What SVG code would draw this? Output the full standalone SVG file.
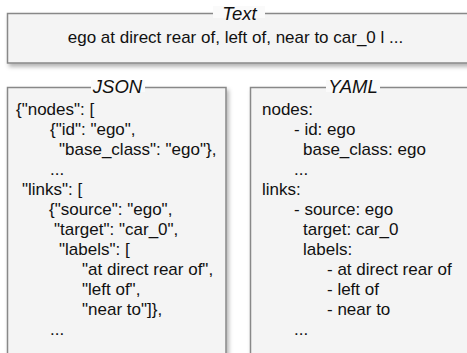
<svg xmlns="http://www.w3.org/2000/svg" width="467" height="353" viewBox="0 0 467 353">
<defs>
<filter id="sh" x="-10%" y="-10%" width="130%" height="140%">
<feDropShadow dx="2" dy="3" stdDeviation="2" flood-color="#000" flood-opacity="0.3"/>
</filter>
</defs>
<style>
.box{fill:#f4f4f4;stroke:#888;stroke-width:1.5}
.t{font-family:"Liberation Sans",Arial,sans-serif;font-size:17px;fill:#111}
.h{font-family:"Liberation Sans",Arial,sans-serif;font-size:18.5px;font-style:italic;fill:#111;text-anchor:middle}
.bg{fill:#fafafa}
</style>
<rect width="467" height="353" fill="#fff"/>
<g id="text-box">
<rect class="box" x="7.5" y="13.5" width="470" height="49.5" filter="url(#sh)"/>
<rect class="bg" x="213" y="6" width="52" height="12"/>
<text class="h" x="239.5" y="20">Text</text>
<text class="t" x="235.5" y="42.5" text-anchor="middle">ego at direct rear of, left of, near to car_0 l ...</text>
</g>
<g id="json-box">
<rect class="box" x="7.5" y="87.5" width="218.5" height="280" filter="url(#sh)"/>
<rect class="bg" x="91" y="80" width="54" height="12"/>
<text class="h" x="117.5" y="93">JSON</text>
<text class="t" x="16" y="115">{"nodes": [</text>
<text class="t" x="50" y="135">{"id": "ego",</text>
<text class="t" x="59" y="155">"base_class": "ego"},</text>
<text class="t" x="50" y="175">...</text>
<text class="t" x="22" y="195">"links": [</text>
<text class="t" x="49" y="215">{"source": "ego",</text>
<text class="t" x="54" y="235">"target": "car_0",</text>
<text class="t" x="59" y="255">"labels": [</text>
<text class="t" x="82" y="275">"at direct rear of",</text>
<text class="t" x="82" y="295">"left of",</text>
<text class="t" x="82" y="315">"near to"]},</text>
<text class="t" x="50" y="335">...</text>
</g>
<g id="yaml-box">
<rect class="box" x="250.5" y="87.5" width="230" height="280" filter="url(#sh)"/>
<rect class="bg" x="326" y="80" width="54" height="12"/>
<text class="h" x="353" y="93">YAML</text>
<text class="t" x="262" y="115">nodes:</text>
<text class="t" x="294" y="135">- id: ego</text>
<text class="t" x="303" y="155">base_class: ego</text>
<text class="t" x="294" y="175">...</text>
<text class="t" x="262" y="195">links:</text>
<text class="t" x="294" y="215">- source: ego</text>
<text class="t" x="303" y="235">target: car_0</text>
<text class="t" x="303" y="255">labels:</text>
<text class="t" x="327" y="275">- at direct rear of</text>
<text class="t" x="327" y="295">- left of</text>
<text class="t" x="327" y="315">- near to</text>
<text class="t" x="294" y="335">...</text>
</g>
<g id="connectors"/>
</svg>
